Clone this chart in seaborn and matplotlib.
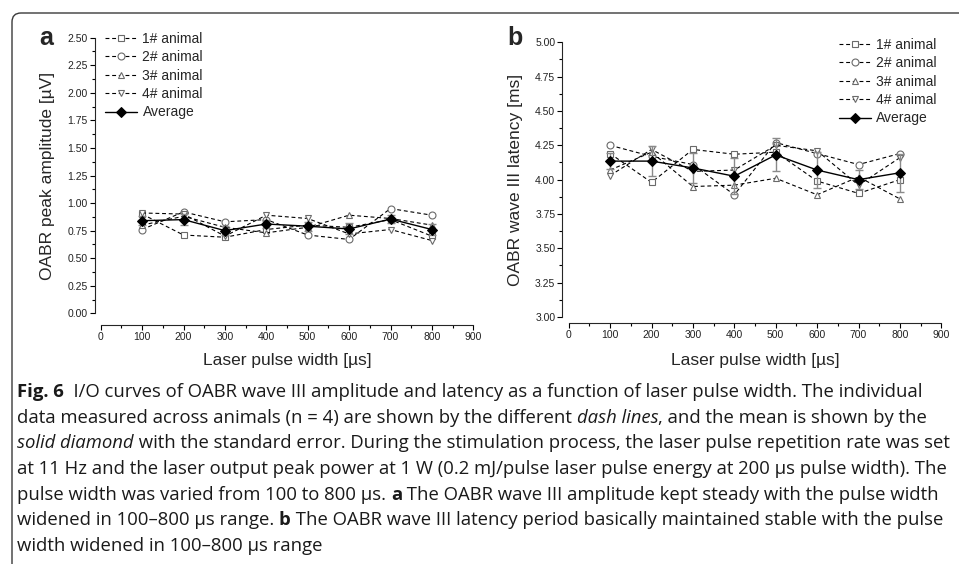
import numpy as np
import pandas as pd
import matplotlib
matplotlib.use("Agg")
import matplotlib.pyplot as plt
import seaborn as sns
from matplotlib.patches import FancyBboxPatch
from matplotlib.transforms import IdentityTransform
from matplotlib.ticker import MultipleLocator, FormatStrFormatter

# pulse widths (us)
pulse_width = [100, 200, 300, 400, 500, 600, 700, 800]
animals = ["1# animal", "2# animal", "3# animal", "4# animal"]
markers = ["s", "o", "^", "v"]

# panel a: OABR peak amplitude (uV)
amp_1 = [0.90, 0.71, 0.69, 0.76, 0.80, 0.78, 0.85, 0.70]
amp_2 = [0.76, 0.92, 0.83, 0.85, 0.71, 0.67, 0.95, 0.89]
amp_3 = [0.80, 0.88, 0.78, 0.73, 0.78, 0.89, 0.86, 0.80]
amp_4 = [0.91, 0.90, 0.70, 0.89, 0.86, 0.72, 0.76, 0.66]
amp_avg = [0.84, 0.85, 0.75, 0.81, 0.79, 0.765, 0.855, 0.76]
amp_err = [0.04, 0.05, 0.04, 0.04, 0.04, 0.05, 0.04, 0.05]

# panel b: OABR wave III latency (ms)
lat_1 = [4.19, 3.98, 4.22, 4.185, 4.20, 3.99, 3.90, 4.00]
lat_2 = [4.25, 4.17, 4.11, 3.89, 4.27, 4.19, 4.11, 4.19]
lat_3 = [4.07, 4.20, 3.95, 3.96, 4.01, 3.89, 4.02, 3.86]
lat_4 = [4.03, 4.22, 4.06, 4.07, 4.25, 4.21, 3.96, 4.16]
lat_avg = [4.135, 4.135, 4.085, 4.025, 4.18, 4.07, 4.00, 4.05]
lat_err = [0.06, 0.11, 0.11, 0.13, 0.12, 0.13, 0.07, 0.14]

W, H = 959, 564
AX_FONT = ["Liberation Sans", "DejaVu Sans"]
CAP_FONT = ["Open Sans", "DejaVu Sans"]

sns.set_theme(style="ticks")
plt.rcParams["font.family"] = AX_FONT
plt.rcParams["axes.linewidth"] = 0.8
plt.rcParams["xtick.major.width"] = 0.8
plt.rcParams["ytick.major.width"] = 0.8
plt.rcParams["xtick.minor.width"] = 0.8
plt.rcParams["ytick.minor.width"] = 0.8

fig = plt.figure(figsize=(W / 100, H / 100), dpi=100)
fig.patch.set_facecolor("white")


def px_rect(x0, y0, x1, y1):
    # pixel box (top-left origin) -> figure fraction rect
    return [x0 / W, 1 - y1 / H, (x1 - x0) / W, (y1 - y0) / H]


def draw_panel(ax, series, avg, err, ylim, step, ylabel, left_out, bottom_out, xlab_y):
    for name, vals, m in zip(animals, series, markers):
        sns.lineplot(x=pulse_width, y=vals, ax=ax, color="black", lw=0.8,
                     linestyle=(0, (3.5, 2.5)), marker=m, markersize=5,
                     markerfacecolor="white", markeredgecolor="#6a6a6a",
                     markeredgewidth=0.8, label=name)
    ax.errorbar(pulse_width, avg, yerr=err, fmt="none", ecolor="#8a8a8a",
                elinewidth=1.0, capsize=3, capthick=1.0, zorder=4)
    sns.lineplot(x=pulse_width, y=avg, ax=ax, color="black", lw=1.0,
                 marker="D", markersize=5, markerfacecolor="black",
                 markeredgecolor="black", label="Average", zorder=5)
    ax.set_xlim(0, 900)
    ax.set_ylim(*ylim)
    ax.xaxis.set_major_locator(MultipleLocator(100))
    ax.xaxis.set_minor_locator(MultipleLocator(50))
    ax.yaxis.set_major_locator(MultipleLocator(step))
    ax.yaxis.set_minor_locator(MultipleLocator(step / 2))
    ax.yaxis.set_major_formatter(FormatStrFormatter("%.2f"))
    ax.tick_params(which="major", direction="out", length=3.5, labelsize=7.5,
                   pad=1.5, color="black", labelcolor="#222222")
    ax.tick_params(which="minor", direction="out", length=2, color="black")
    ax.spines["left"].set_position(("outward", left_out))
    ax.spines["bottom"].set_position(("outward", bottom_out))
    sns.despine(ax=ax, top=True, right=True)
    ax.set_ylabel(ylabel, fontsize=12.5)
    ax.set_xlabel("Laser pulse width [\u00b5s]", fontsize=12.5)
    ax.yaxis.set_label_coords(-0.123, 0.5)
    ax.xaxis.set_label_coords(0.5, xlab_y)
    ax.set_facecolor("none")


ax_a = fig.add_axes(px_rect(100.7, 37.7, 473.3, 313.3))
draw_panel(ax_a, [amp_1, amp_2, amp_3, amp_4], amp_avg, amp_err,
           (0, 2.5), 0.25, "OABR peak amplitude [\u00b5V]", 4.3, 8.4, -0.145)
ax_a.legend(loc="upper left", bbox_to_anchor=(0.0115, 1.022), frameon=False,
            fontsize=10, handlelength=2.3, handletextpad=0.4,
            labelspacing=0.32, borderaxespad=0, borderpad=0)

ax_b = fig.add_axes(px_rect(568.7, 42.3, 941.3, 317))
draw_panel(ax_b, [lat_1, lat_2, lat_3, lat_4], lat_avg, lat_err,
           (3.0, 5.0), 0.25, "OABR wave III latency [ms]", 4.6, 4.5, -0.132)
ax_b.legend(loc="upper right", bbox_to_anchor=(0.988, 1.017), frameon=False,
            fontsize=10, handlelength=2.3, handletextpad=0.4,
            labelspacing=0.32, borderaxespad=0, borderpad=0)

fig.text(46 / W, 1 - 38 / H, "a", fontsize=18, fontweight="bold",
         ha="center", va="center")
fig.text(515 / W, 1 - 38 / H, "b", fontsize=18, fontweight="bold",
         ha="center", va="center")

# rounded frame in the top-left corner
frame = FancyBboxPatch((12, -60), 1100, H - 13 + 60,
                       boxstyle="round,pad=0,rounding_size=9",
                       transform=IdentityTransform(), fill=False,
                       edgecolor="#3a3a3a", lw=1.0)
fig.add_artist(frame)

# caption with mixed styles
caption = [
    [("Fig. 6", "bold", "normal"),
     ("  I/O curves of OABR wave III amplitude and latency as a function of laser pulse width. The individual", "normal", "normal")],
    [("data measured across animals (n = 4) are shown by the different ", "normal", "normal"),
     ("dash lines", "normal", "italic"),
     (", and the mean is shown by the", "normal", "normal")],
    [("solid diamond", "normal", "italic"),
     (" with the standard error. During the stimulation process, the laser pulse repetition rate was set", "normal", "normal")],
    [("at 11 Hz and the laser output peak power at 1 W (0.2 mJ/pulse laser pulse energy at 200 \u03bcs pulse width). The", "normal", "normal")],
    [("pulse width was varied from 100 to 800 \u03bcs. ", "normal", "normal"),
     ("a", "bold", "normal"),
     (" The OABR wave III amplitude kept steady with the pulse width", "normal", "normal")],
    [("widened in 100\u2013800 \u03bcs range. ", "normal", "normal"),
     ("b", "bold", "normal"),
     (" The OABR wave III latency period basically maintained stable with the pulse", "normal", "normal")],
    [("width widened in 100\u2013800 \u03bcs range", "normal", "normal")],
]
cap_y = [392, 418, 443, 469, 495, 520, 546]
cap_size = 13.3

renderer = fig.canvas.get_renderer()


def seg_width(txt, weight, style):
    # width including leading/trailing spaces, measured between two bars
    t = fig.text(0, 0, "|" + txt + "|", fontsize=cap_size, family=CAP_FONT,
                 fontweight=weight, fontstyle=style)
    bar = fig.text(0, 0, "||", fontsize=cap_size, family=CAP_FONT,
                   fontweight=weight, fontstyle=style)
    w = t.get_window_extent(renderer).width - bar.get_window_extent(renderer).width
    t.remove()
    bar.remove()
    return w


for parts, y in zip(caption, cap_y):
    x = 17.0
    for txt, weight, style in parts:
        fig.text(x / W, 1 - y / H, txt, fontsize=cap_size, family=CAP_FONT,
                 fontweight=weight, fontstyle=style, ha="left", va="center",
                 color="#1a1a1a")
        x += seg_width(txt, weight, style)

fig.savefig("out.png", dpi=100, facecolor="white")
